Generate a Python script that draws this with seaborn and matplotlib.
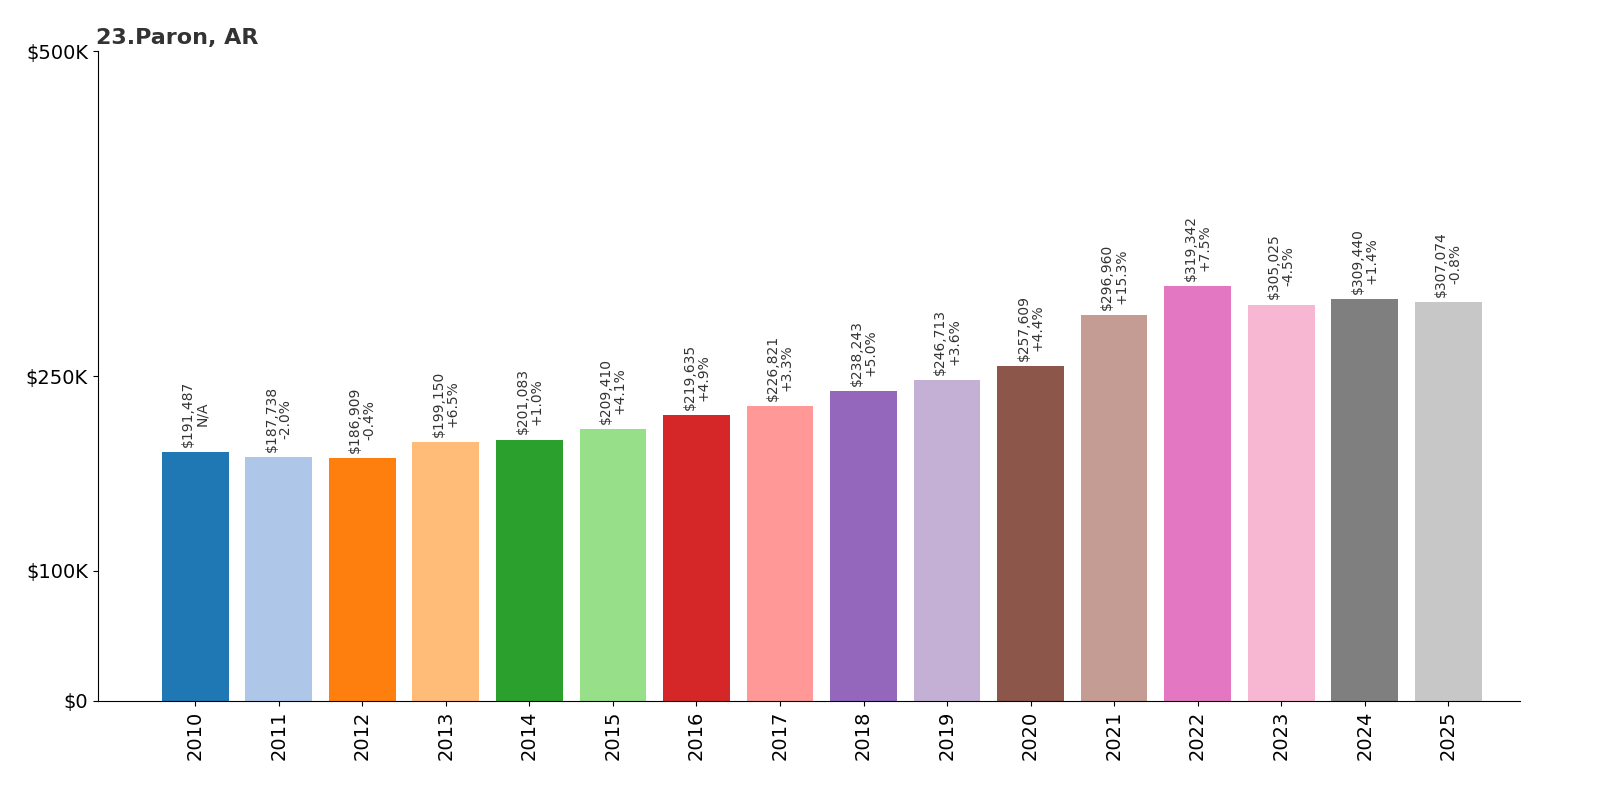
import matplotlib
matplotlib.use("Agg")
import matplotlib.pyplot as plt
import seaborn as sns
import pandas as pd

years = [str(y) for y in range(2010, 2026)]
values = [191487, 187738, 186909, 199150, 201083, 209410, 219635, 226821,
          238243, 246713, 257609, 296960, 319342, 305025, 309440, 307074]
changes = ["N/A", "-2.0%", "-0.4%", "+6.5%", "+1.0%", "+4.1%", "+4.9%", "+3.3%",
           "+5.0%", "+3.6%", "+4.4%", "+15.3%", "+7.5%", "-4.5%", "+1.4%", "-0.8%"]

df = pd.DataFrame({"year": years, "value": values})
colors = sns.color_palette("tab20", 16)

fig = plt.figure(figsize=(16, 8), dpi=100)
ax = fig.add_axes([0.061, 0.124, 0.889, 0.812])
sns.barplot(data=df, x="year", y="value", hue="year", palette=colors,
            legend=False, width=0.8, saturation=1, ax=ax)

for i, (v, c) in enumerate(zip(values, changes)):
    ax.text(i, v + 4000, f"${v:,}\n{c}", rotation=90, ha="center", va="bottom",
            fontsize=10, color="#333333", linespacing=1.0)

ax.set_xlim(-1.17, 15.86)
ax.set_ylim(0, 500000)
ax.set_yticks([0, 100000, 250000, 500000])
ax.set_yticklabels(["$0", "$100K", "$250K", "$500K"], fontsize=14)
ax.tick_params(axis="x", labelrotation=90, labelsize=14)
ax.set_xlabel("")
ax.set_ylabel("")
for s in ["top", "right"]:
    ax.spines[s].set_visible(False)
fig.text(0.06, 0.945, "23.Paron, AR", fontsize=16, fontweight="bold", color="#333333")
fig.savefig("out.png", dpi=100)
